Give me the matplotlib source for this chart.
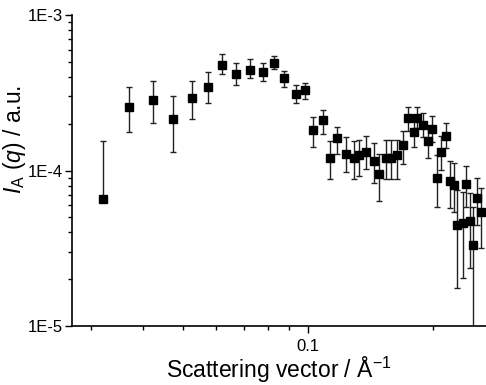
import numpy as np
import matplotlib.pyplot as plt
from matplotlib.ticker import FixedLocator, LogLocator, NullFormatter

plt.rcParams['font.family'] = ['Liberation Sans', 'DejaVu Sans']
plt.rcParams['mathtext.fontset'] = 'custom'
plt.rcParams['mathtext.rm'] = 'Liberation Sans'
plt.rcParams['mathtext.it'] = 'Liberation Sans:italic'

# scattering vector (1/Å)
q = [0.0320, 0.0371, 0.0424, 0.0474, 0.0525, 0.0573, 0.0622, 0.0672, 0.0723,
     0.0777, 0.0827, 0.0877, 0.0933, 0.0980, 0.1030, 0.1083, 0.1128, 0.1172,
     0.1233, 0.1288, 0.1325, 0.1375, 0.1439, 0.1480, 0.1539, 0.1582, 0.1635,
     0.1688, 0.1735, 0.1794, 0.1824, 0.1886, 0.1939, 0.1983, 0.2038, 0.2084,
     0.2142, 0.2190, 0.2240, 0.2281, 0.2354, 0.2398, 0.2452, 0.2497, 0.2549,
     0.2602]

# intensity I_A(q) and the error bar ends
intensity = [6.56e-5, 2.57e-4, 2.85e-4, 2.15e-4, 2.94e-4, 3.46e-4, 4.79e-4,
             4.19e-4, 4.45e-4, 4.32e-4, 4.94e-4, 3.95e-4, 3.12e-4, 3.31e-4,
             1.83e-4, 2.10e-4, 1.21e-4, 1.61e-4, 1.28e-4, 1.21e-4, 1.25e-4,
             1.32e-4, 1.16e-4, 9.54e-5, 1.21e-4, 1.21e-4, 1.25e-4, 1.47e-4,
             2.19e-4, 1.78e-4, 2.19e-4, 1.97e-4, 1.55e-4, 1.86e-4, 8.99e-5,
             1.32e-4, 1.67e-4, 8.56e-5, 8.13e-5, 4.46e-5, 4.62e-5, 8.15e-5,
             4.76e-5, 3.33e-5, 6.69e-5, 5.43e-5]

upper = [1.54e-4, 3.46e-4, 3.75e-4, 3.01e-4, 3.75e-4, 4.30e-4, 5.61e-4,
         4.91e-4, 5.19e-4, 4.91e-4, 5.47e-4, 4.38e-4, 3.55e-4, 3.64e-4,
         2.20e-4, 2.44e-4, 1.54e-4, 1.91e-4, 1.64e-4, 1.54e-4, 1.58e-4,
         1.67e-4, 1.50e-4, 1.28e-4, 1.58e-4, 1.58e-4, 1.58e-4, 1.80e-4,
         2.57e-4, 2.19e-4, 2.57e-4, 2.35e-4, 1.93e-4, 2.25e-4, 1.25e-4,
         1.67e-4, 2.01e-4, 1.15e-4, 1.12e-4, 7.49e-5, 7.31e-5, 1.07e-4,
         7.20e-5, 5.85e-5, 8.95e-5, 7.68e-5]

lower = [6.56e-5, 1.76e-4, 2.02e-4, 1.31e-4, 2.14e-4, 2.72e-4, 4.17e-4,
         3.55e-4, 3.95e-4, 3.76e-4, 4.52e-4, 3.46e-4, 2.72e-4, 2.87e-4,
         1.42e-4, 1.71e-4, 8.78e-5, 1.28e-4, 9.74e-5, 8.78e-5, 9.26e-5,
         1.03e-4, 8.35e-5, 6.37e-5, 8.78e-5, 8.78e-5, 8.78e-5, 1.11e-4,
         1.80e-4, 1.42e-4, 1.88e-4, 1.65e-4, 1.21e-4, 1.53e-4, 5.85e-5,
         1.01e-4, 1.39e-4, 5.71e-5, 5.43e-5, 1.76e-5, 2.04e-5, 5.80e-5,
         2.35e-5, 5.0e-6, 4.46e-5, 3.16e-5]


def main():
    q_arr = np.array(q)
    y = np.array(intensity)
    yerr = [y - np.array(lower), np.array(upper) - y]

    fig = plt.figure(figsize=(4.86, 3.85), dpi=100)
    ax = fig.add_axes([0.148, 0.153, 0.852, 0.808])

    ax.errorbar(q_arr, y, yerr=yerr, fmt='s', color='black', ms=6,
                ecolor='#222222', elinewidth=1, capsize=2.5, capthick=1)

    ax.set_xscale('log')
    ax.set_yscale('log')
    ax.set_xlim(0.027, 0.268)
    ax.set_ylim(1e-5, 1e-3)

    for side in ['top', 'right']:
        ax.spines[side].set_visible(False)
    for side in ['left', 'bottom']:
        ax.spines[side].set_linewidth(1.2)

    ax.xaxis.set_major_locator(FixedLocator([0.1]))
    ax.set_xticklabels(['0.1'])
    ax.xaxis.set_minor_locator(LogLocator(base=10, subs=np.arange(2, 10)))
    ax.xaxis.set_minor_formatter(NullFormatter())

    ax.yaxis.set_major_locator(FixedLocator([1e-5, 1e-4, 1e-3]))
    ax.set_yticklabels(['1E-5', '1E-4', '1E-3'])
    ax.yaxis.set_minor_locator(LogLocator(base=10, subs=np.arange(2, 10)))
    ax.yaxis.set_minor_formatter(NullFormatter())

    ax.tick_params(which='major', direction='out', length=5, width=1,
                   labelsize=12)
    ax.tick_params(axis='y', which='major', pad=1.5)
    ax.tick_params(axis='x', which='major', pad=4)
    ax.tick_params(which='minor', direction='out', length=3, width=1)

    ax.set_xlabel('Scattering vector / Å$^{-1}$', fontsize=16.5, labelpad=1)
    fig.text(15 / 486, 1 - 139 / 385, r'$I_{\mathrm{A}}$ ($q$) / a.u.',
             fontsize=16.5, rotation=90, ha='center', va='center')

    fig.savefig('out.png', dpi=100)


if __name__ == "__main__":
    main()
